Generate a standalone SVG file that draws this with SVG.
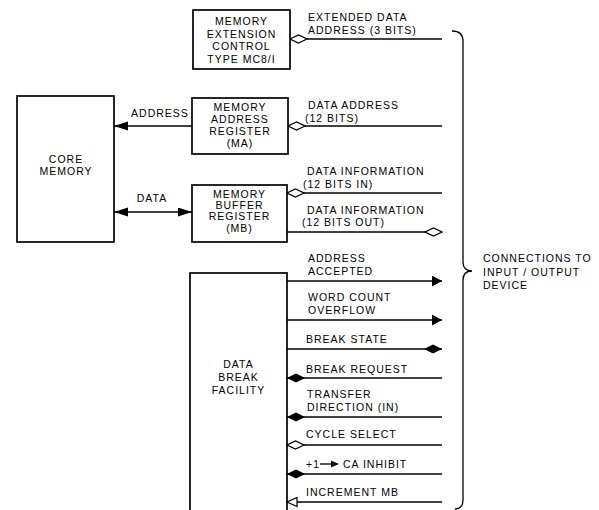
<svg xmlns="http://www.w3.org/2000/svg" width="599" height="510" viewBox="0 0 599 510">
<style>
text{font-family:"Liberation Sans",Arial,sans-serif;font-size:10.5px;letter-spacing:1px;fill:#000}
.c{text-anchor:middle}
.box{fill:#fff;stroke:#000;stroke-width:1.7}
.ln{fill:none;stroke:#000;stroke-width:1.3}
</style>
<defs>
<marker id="dOpen" markerUnits="userSpaceOnUse" markerWidth="19" markerHeight="10" viewBox="-1 -1 19 10" refX="17" refY="4" orient="auto-start-reverse"><path d="M0,4 L8.5,0 L17,4 L8.5,8 Z" fill="#fff" stroke="#000" stroke-width="1.2"/></marker>
<marker id="dFill" markerUnits="userSpaceOnUse" markerWidth="20" markerHeight="11" viewBox="-1 -1 20 11" refX="18" refY="4.5" orient="auto-start-reverse"><path d="M0,4.5 L9,0 L18,4.5 L9,9 Z" fill="#000"/></marker>
<marker id="aFill" markerUnits="userSpaceOnUse" markerWidth="11" markerHeight="12" viewBox="0 0 11 12" refX="10" refY="5.5" orient="auto-start-reverse"><path d="M0,0 L10,5.5 L0,11 Z" fill="#000"/></marker>
<marker id="aLong" markerUnits="userSpaceOnUse" markerWidth="15" markerHeight="10" viewBox="0 0 15 10" refX="14" refY="4.5" orient="auto-start-reverse"><path d="M0,0 L14,4.5 L0,9 Z" fill="#000"/></marker>
<marker id="tOpen" markerUnits="userSpaceOnUse" markerWidth="12" markerHeight="11" viewBox="-1 -1 12 11" refX="10" refY="4.5" orient="auto-start-reverse"><path d="M0,0 L10,4.5 L0,9 Z" fill="#fff" stroke="#000" stroke-width="1.2"/></marker>
</defs>
<rect width="599" height="510" fill="#fff"/>

<g id="connectors">
<path class="ln" d="M442,39 H290" marker-end="url(#dOpen)"/>
<path class="ln" d="M192,126 H114" marker-end="url(#aLong)"/>
<path class="ln" d="M114,212 H192" marker-start="url(#aLong)" marker-end="url(#aLong)"/>
<path class="ln" d="M442,126 H288" marker-end="url(#dOpen)"/>
<path class="ln" d="M442,193 H287" marker-end="url(#dOpen)"/>
<path class="ln" d="M287,232 H442" marker-end="url(#dOpen)"/>
<path class="ln" d="M287,281 H442" marker-end="url(#aFill)"/>
<path class="ln" d="M287,320 H442" marker-end="url(#aFill)"/>
<path class="ln" d="M287,349 H442" marker-end="url(#dFill)"/>
<path class="ln" d="M442,378 H287" marker-end="url(#dFill)"/>
<path class="ln" d="M442,417 H287" marker-end="url(#dFill)"/>
<path class="ln" d="M442,445 H287" marker-end="url(#dOpen)"/>
<path class="ln" d="M442,474 H287" marker-end="url(#dFill)"/>
<path class="ln" d="M442,502 H287" marker-end="url(#tOpen)"/>
<path class="ln" d="M452,31 Q463,31 463,41 V262 Q463,271 472,271 Q463,271 463,280 V500 Q463,509 455,509"/>
</g>

<g id="labels">
<text x="160" y="117" class="c">ADDRESS</text>
<text x="152" y="202" class="c">DATA</text>
<text x="308" y="21">EXTENDED DATA</text>
<text x="308" y="33.5">ADDRESS (3 BITS)</text>
<text x="308" y="109">DATA ADDRESS</text>
<text x="305" y="121.5">(12 BITS)</text>
<text x="307" y="175">DATA INFORMATION</text>
<text x="303" y="188">(12 BITS IN)</text>
<text x="307" y="213.5">DATA INFORMATION</text>
<text x="302" y="226">(12 BITS OUT)</text>
<text x="308" y="261.5">ADDRESS</text>
<text x="308" y="274.5">ACCEPTED</text>
<text x="308" y="301">WORD COUNT</text>
<text x="308" y="314">OVERFLOW</text>
<text x="306" y="342.5">BREAK STATE</text>
<text x="306" y="372.5">BREAK REQUEST</text>
<text x="307" y="397.5">TRANSFER</text>
<text x="307" y="410.5">DIRECTION (IN)</text>
<text x="306" y="438">CYCLE SELECT</text>
<text x="306" y="467.5">+1</text>
<path class="ln" d="M320,464 H333"/>
<path d="M331,460.5 L339,464 L331,467.5 Z" fill="#000"/>
<text x="343" y="467.5">CA INHIBIT</text>
<text x="306" y="496">INCREMENT MB</text>
<text x="483" y="262">CONNECTIONS TO</text>
<text x="483" y="275.5">INPUT / OUTPUT</text>
<text x="483" y="289">DEVICE</text>
</g>

<g id="mec">
<rect class="box" x="193" y="10" width="97" height="59"/>
<text x="241.5" y="25" class="c">MEMORY</text>
<text x="241.5" y="38" class="c">EXTENSION</text>
<text x="241.5" y="50" class="c">CONTROL</text>
<text x="241.5" y="63" class="c">TYPE MC8/I</text>
</g>
<g id="core">
<rect class="box" x="17" y="96" width="97" height="146"/>
<text x="66" y="163" class="c">CORE</text>
<text x="66" y="175" class="c">MEMORY</text>
</g>
<g id="ma">
<rect class="box" x="192" y="98" width="96" height="56"/>
<text x="240" y="111" class="c">MEMORY</text>
<text x="240" y="123" class="c">ADDRESS</text>
<text x="240" y="135" class="c">REGISTER</text>
<text x="240" y="147" class="c">(MA)</text>
</g>
<g id="mb">
<rect class="box" x="192" y="185" width="95" height="57"/>
<text x="239.5" y="198" class="c">MEMORY</text>
<text x="239.5" y="209" class="c">BUFFER</text>
<text x="239.5" y="220" class="c">REGISTER</text>
<text x="239.5" y="232" class="c">(MB)</text>
</g>
<g id="dbf">
<rect class="box" x="190" y="273" width="97" height="250"/>
<text x="238.5" y="368" class="c">DATA</text>
<text x="238.5" y="381" class="c">BREAK</text>
<text x="238.5" y="394" class="c">FACILITY</text>
</g>
</svg>
